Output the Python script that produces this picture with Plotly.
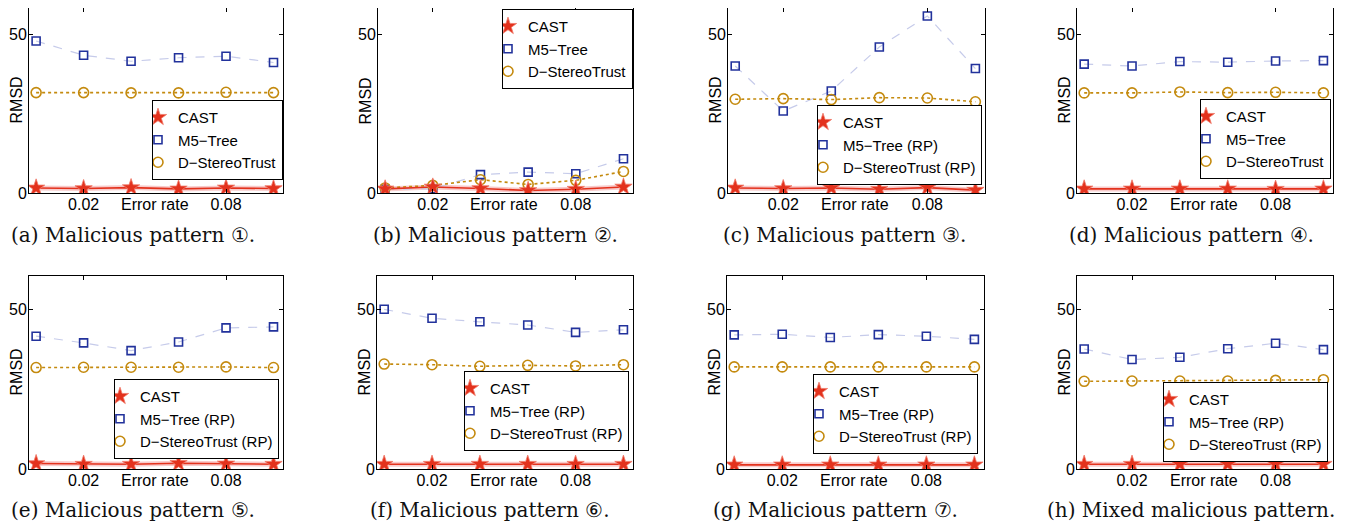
import plotly.graph_objects as go

# ---------------- data ----------------
error_rate = [0.0, 0.02, 0.04, 0.06, 0.08, 0.10]

panel_ids = ["a", "b", "c", "d", "e", "f", "g", "h"]

cast_rmsd = [
    [1.6, 1.4, 1.7, 1.3, 1.6, 1.4],
    [1.3, 1.9, 1.4, 0.8, 1.2, 1.9],
    [1.6, 1.4, 1.6, 1.2, 1.7, 0.9],
    [1.3, 1.3, 1.3, 1.3, 1.2, 1.3],
    [1.7, 1.5, 1.5, 1.8, 1.6, 1.5],
    [1.5, 1.5, 1.5, 1.5, 1.5, 1.5],
    [1.3, 1.3, 1.3, 1.3, 1.3, 1.3],
    [1.5, 1.5, 1.5, 1.5, 1.5, 1.5],
]
m5_rmsd = [
    [48.0, 43.5, 41.6, 42.7, 43.2, 41.2],
    [1.2, 1.3, 5.8, 6.6, 6.1, 10.8],
    [40.1, 25.9, 32.2, 46.1, 55.9, 39.3],
    [40.7, 40.1, 41.5, 41.3, 41.7, 41.8],
    [41.5, 39.4, 37.0, 39.7, 44.1, 44.4],
    [49.9, 47.1, 46.0, 45.0, 42.7, 43.5],
    [41.9, 42.1, 41.1, 42.0, 41.5, 40.5],
    [37.5, 34.2, 34.9, 37.6, 39.3, 37.3],
]
ds_rmsd = [
    [31.7, 31.7, 31.6, 31.6, 31.8, 31.7],
    [1.6, 2.4, 4.2, 2.7, 4.0, 6.8],
    [29.6, 29.8, 29.5, 30.1, 30.0, 28.8],
    [31.6, 31.6, 31.9, 31.7, 31.8, 31.6],
    [31.7, 31.8, 31.8, 31.8, 31.9, 31.7],
    [32.8, 32.6, 32.1, 32.4, 32.2, 32.6],
    [31.9, 31.9, 31.9, 31.9, 31.9, 31.9],
    [27.4, 27.5, 27.5, 27.5, 27.7, 27.9],
]

cast_names = ["CAST"] * 8
m5_names = ["M5−Tree", "M5−Tree", "M5−Tree (RP)", "M5−Tree",
            "M5−Tree (RP)", "M5−Tree (RP)", "M5−Tree (RP)", "M5−Tree (RP)"]
ds_names = ["D−StereoTrust", "D−StereoTrust", "D−StereoTrust (RP)", "D−StereoTrust",
            "D−StereoTrust (RP)", "D−StereoTrust (RP)", "D−StereoTrust (RP)", "D−StereoTrust (RP)"]

captions = [
    "(a) Malicious pattern ①.",
    "(b) Malicious pattern ②.",
    "(c) Malicious pattern ③.",
    "(d) Malicious pattern ④.",
    "(e) Malicious pattern ⑤.",
    "(f) Malicious pattern ⑥.",
    "(g) Malicious pattern ⑦.",
    "(h) Mixed malicious pattern.",
]

x_tick_vals = [0.02, 0.08]
x_tick_text = ["0.02", "0.08"]
y_tick_vals = [0, 50]
x_label = "Error rate"
y_label = "RMSD"

# ---------------- layout geometry (screen pixels) ----------------
SCREEN_W, SCREEN_H = 1358, 532
OFF = 8                       # default page body margin
FW, FH = SCREEN_W - 2 * OFF, SCREEN_H - 2 * OFF
PX_PER_UNIT = [3.167, 3.2]    # vertical scale of rows 1 and 2

axes_px = [  # left, right, top, bottom
    (29, 283, 8, 193), (378, 633, 8, 193), (728, 985, 8, 193), (1077, 1333, 8, 193),
    (29, 283, 276, 469), (377, 633, 276, 469), (727, 984, 276, 469), (1077, 1333, 276, 469),
]
legend_px = [  # right, y, anchor
    (283, 140, "middle"), (633, 9, "top"), (982, 145, "middle"), (1331, 139, "middle"),
    (279, 419, "middle"), (629, 411, "middle"), (978, 414, "middle"), (1328, 422, "middle"),
]
caption_px = [  # center x, center y
    (133, 235), (495, 235), (844, 235), (1191, 235),
    (133, 510), (490, 510), (835, 510), (1191, 510),
]


def px_x(p):
    return (p - OFF) / FW


def px_y(p):
    return 1 - (p - OFF) / FH


RED = "#e3321d"
BLUE = "#22329c"
BLUE_LINE = "#c6cbea"
GOLD = "#c48a0e"
FONT = "Liberation Sans, Arial, sans-serif"

fig = go.Figure()
layout = dict(
    template="none",
    width=FW, height=FH,
    margin=dict(l=0, r=0, t=0, b=0, autoexpand=False),
    paper_bgcolor="white", plot_bgcolor="white",
    font=dict(family=FONT, size=16, color="black"),
    annotations=[],
)

for i, pid in enumerate(panel_ids):
    n = i + 1
    xa = "x" if n == 1 else f"x{n}"
    ya = "y" if n == 1 else f"y{n}"
    lg = "legend" if n == 1 else f"legend{n}"

    # connecting lines (no legend entries)
    fig.add_trace(go.Scatter(
        x=error_rate, y=cast_rmsd[i], mode="lines",
        line=dict(color="rgba(240,140,140,0.45)", width=5),
        xaxis=xa, yaxis=ya, showlegend=False, hoverinfo="skip"))
    fig.add_trace(go.Scatter(
        x=error_rate, y=m5_rmsd[i], mode="lines",
        line=dict(color=BLUE_LINE, width=1.2, dash="dash"),
        xaxis=xa, yaxis=ya, showlegend=False, hoverinfo="skip"))
    fig.add_trace(go.Scatter(
        x=error_rate, y=ds_rmsd[i], mode="lines",
        line=dict(color=GOLD, width=1.6, dash="dot"),
        xaxis=xa, yaxis=ya, showlegend=False, hoverinfo="skip"))
    fig.add_trace(go.Scatter(
        x=error_rate, y=cast_rmsd[i], mode="lines",
        line=dict(color=RED, width=1.6),
        xaxis=xa, yaxis=ya, showlegend=False, hoverinfo="skip"))
    # markers (legend entries)
    fig.add_trace(go.Scatter(
        x=error_rate, y=m5_rmsd[i], name=m5_names[i], mode="markers",
        marker=dict(symbol="square-open", size=8, color=BLUE, line=dict(width=1.6, color=BLUE)),
        xaxis=xa, yaxis=ya, legend=lg, legendrank=2))
    fig.add_trace(go.Scatter(
        x=error_rate, y=ds_rmsd[i], name=ds_names[i], mode="markers",
        marker=dict(symbol="circle-open", size=10, color=GOLD, line=dict(width=1.6, color=GOLD)),
        xaxis=xa, yaxis=ya, legend=lg, legendrank=3))
    fig.add_trace(go.Scatter(
        x=error_rate, y=cast_rmsd[i], name=cast_names[i], mode="markers",
        marker=dict(symbol="star", size=13, color=RED, line=dict(width=0.8, color="#f07a6a")),
        xaxis=xa, yaxis=ya, legend=lg, legendrank=1))

    l, r, t, b = axes_px[i]
    ymax = (b - t) / PX_PER_UNIT[i // 4]
    axis_common = dict(
        showline=True, linecolor="black", linewidth=1, mirror="allticks",
        ticks="inside", ticklen=4, tickcolor="black", showgrid=False, zeroline=False,
        automargin=False,
        tickfont=dict(family=FONT, size=16, color="black"),
    )
    layout["xaxis" if n == 1 else f"xaxis{n}"] = dict(
        axis_common, domain=[px_x(l), px_x(r)], range=[-0.003, 0.104],
        tickvals=x_tick_vals, ticktext=x_tick_text, anchor=ya, ticklabelstandoff=-3,
    )
    layout["yaxis" if n == 1 else f"yaxis{n}"] = dict(
        axis_common, domain=[px_y(b), px_y(t)], range=[0, ymax],
        tickvals=y_tick_vals, anchor=xa, ticklabelstandoff=-2,
    )
    lr, ly, lanchor = legend_px[i]
    layout[lg] = dict(
        x=px_x(lr), y=px_y(ly), xanchor="right", yanchor=lanchor,
        bgcolor="white", bordercolor="black", borderwidth=1,
        font=dict(family=FONT, size=15, color="black"),
        itemwidth=30, tracegroupgap=0, indentation=-15,
    )
    # x label sits on the tick-label row
    layout["annotations"].append(dict(
        text=x_label, xref=xa, x=0.05, yref=f"{ya} domain", y=0,
        yanchor="top", xanchor="center", yshift=-1, showarrow=False,
        font=dict(family=FONT, size=16, color="black")))
    layout["annotations"].append(dict(
        text=y_label, xref=f"{xa} domain", x=0, yref=f"{ya} domain", y=0.5,
        xanchor="center", yanchor="middle", xshift=-13, textangle=-90, showarrow=False,
        font=dict(family=FONT, size=16, color="black")))
    cx, cy = caption_px[i]
    layout["annotations"].append(dict(
        text=captions[i], xref="paper", yref="paper", x=px_x(cx), y=px_y(cy),
        xanchor="center", yanchor="middle", showarrow=False,
        font=dict(family="DejaVu Serif, Liberation Serif, serif", size=20, color="#111")))

fig.update_layout(**layout)
fig.write_html("out.html")
